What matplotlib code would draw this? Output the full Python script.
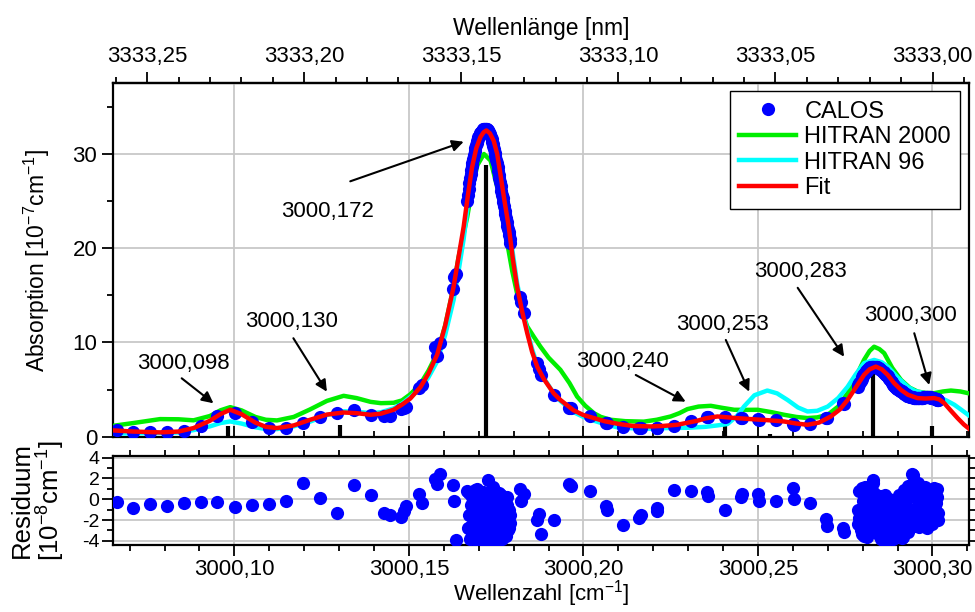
import numpy as np
import matplotlib
matplotlib.use('Agg')
import matplotlib.pyplot as plt
from matplotlib.ticker import MultipleLocator, FixedLocator, FuncFormatter

plt.rcParams['font.family'] = ['Liberation Sans', 'DejaVu Sans']
plt.rcParams['mathtext.fontset'] = 'custom'
plt.rcParams['mathtext.rm'] = 'Liberation Sans'
plt.rcParams['mathtext.default'] = 'regular'
plt.rcParams['axes.unicode_minus'] = False

# CALOS measurement: wavenumber, absorption (1e-7/cm), residual (1e-8/cm) ###########
calos_wn = [3000.0663, 3000.0710, 3000.0758, 3000.0806, 3000.0856, 3000.0904, 3000.0951,
            3000.1002, 3000.1050, 3000.1100, 3000.1148, 3000.1196, 3000.1244, 3000.1294,
            3000.1343, 3000.1392, 3000.1430, 3000.1445, 3000.1478, 3000.1485, 3000.1491,
            3000.1528, 3000.1538, 3000.1576, 3000.1581, 3000.1588, 3000.1626, 3000.1630,
            3000.1636,
            # dense scan over the main line
            3000.1667, 3000.1671, 3000.1675, 3000.1679, 3000.1682, 3000.1686, 3000.1690,
            3000.1694, 3000.1697, 3000.1701, 3000.1705, 3000.1709, 3000.1712, 3000.1716,
            3000.1720, 3000.1724, 3000.1727, 3000.1731, 3000.1735, 3000.1739, 3000.1742,
            3000.1746, 3000.1750, 3000.1754, 3000.1757, 3000.1761, 3000.1765, 3000.1769,
            3000.1772, 3000.1776, 3000.1780, 3000.1784, 3000.1787, 3000.1791,
            3000.1818, 3000.1822, 3000.1829, 3000.1867, 3000.1872, 3000.1879, 3000.1915,
            3000.1960, 3000.1965, 3000.2019, 3000.2064, 3000.2068, 3000.2114, 3000.2160,
            3000.2164, 3000.2210, 3000.2212, 3000.2259, 3000.2309, 3000.2353, 3000.2357,
            3000.2405, 3000.2452, 3000.2455, 3000.2501, 3000.2503, 3000.2553, 3000.2600,
            3000.2602, 3000.2650, 3000.2695, 3000.2697, 3000.2743, 3000.2747,
            # dense scan over 3000,283 / 3000,300
            3000.2786, 3000.2791, 3000.2797, 3000.2802, 3000.2807, 3000.2813, 3000.2818,
            3000.2824, 3000.2829, 3000.2834, 3000.2840, 3000.2845, 3000.2850, 3000.2856,
            3000.2861, 3000.2867, 3000.2872, 3000.2877, 3000.2883, 3000.2888, 3000.2893,
            3000.2899, 3000.2904, 3000.2910, 3000.2915, 3000.2920, 3000.2926, 3000.2931,
            3000.2936, 3000.2942, 3000.2947, 3000.2953, 3000.2958, 3000.2963, 3000.2969,
            3000.2974, 3000.2979, 3000.2985, 3000.2990, 3000.2996, 3000.3001, 3000.3006,
            3000.3012, 3000.3017]
calos_abs = [0.67, 0.49, 0.49, 0.49, 0.63, 1.16, 2.15,
             2.57, 1.51, 0.92, 0.92, 1.45, 2.08, 2.57,
             2.79, 2.33, 2.25, 2.20, 2.95, 3.10, 3.20,
             5.20, 5.50, 9.50, 8.60, 9.90, 15.7, 17.0,
             17.3,
             25.0, 26.3, 27.4, 28.3, 29.0, 29.9, 30.6,
             31.2, 31.6, 31.9, 32.2, 32.4, 32.6, 32.7,
             32.7, 32.6, 32.4, 32.1, 31.8, 31.3, 30.8,
             30.1, 29.4, 28.6, 27.8, 27.0, 26.1, 25.3,
             24.5, 23.6, 22.8, 22.0, 21.4, 20.6,
             14.8, 14.3, 13.1, 7.8, 7.2, 6.6, 4.4,
             3.1, 3.0, 2.15, 1.5, 1.45, 1.05, 0.92,
             0.92, 0.92, 0.95, 1.16, 1.62, 2.05, 2.10,
             2.08, 1.98, 2.00, 1.87, 1.80, 1.73, 1.30,
             1.25, 1.38, 2.00, 1.95, 3.60, 3.50,
             5.3, 5.7, 6.1, 6.5, 6.8, 7.1, 7.3,
             7.4, 7.45, 7.45, 7.4, 7.3, 7.15, 7.0,
             6.8, 6.6, 6.4, 6.1, 5.8, 5.5, 5.3,
             5.1, 5.0, 4.85, 4.7, 4.55, 4.4, 4.3,
             4.25, 4.2, 4.15, 4.1, 4.1, 4.1, 4.1,
             4.15, 4.2, 4.2, 4.2, 4.15, 4.1, 4.05,
             3.95, 3.85]
calos_res = [-0.26, -0.87, -0.42, -0.67, -0.35, -0.26, -0.29,
             -0.77, -0.54, -0.48, -0.13, 1.54, 0.16, -1.28,
             1.35, 0.38, -1.35, -1.50, -1.67, -1.10, -0.70,
             0.48, -0.32, 1.92, 1.44, 2.40, 1.35, -0.22,
             -3.90,
             0.8, -1.5, -3.8, -2.6, 0.2, -3.2, -1.0,
             1.0, -2.2, -4.0, -0.4, -3.0, -1.8, 0.5,
             -3.6, -1.2, 1.8, -2.4, -0.6, -3.9, -1.6,
             0.3, -2.9, -3.9, -0.8, -2.0, 0.4, -3.4,
             -1.4, -2.6, 0.2, -3.0, -1.0, -2.3,
             0.96, -0.22, 0.54, -2.00, -1.38, -3.37, -2.00,
             1.50, 1.30, 0.74, -0.64, -1.06, -2.50, -1.83,
             -1.50, -1.12, -0.80, 0.87, 0.74, 0.70, 0.32,
             -1.06, 0.22, 0.48, 0.54, -0.16, -0.16, 1.12,
             0.00, -0.32, -1.92, -2.56, -2.80, -3.20,
             -2.4, 0.8, -3.3, -1.0, 1.2, -3.6, -0.4,
             0.9, 1.8, 0.6, -1.6, -3.0, 0.3, -2.6,
             -4.0, -1.2, -3.2, 0.0, -2.0, -3.8, -0.8,
             -2.8, 0.4, -1.8, -3.6, 0.9, -1.4, 1.3,
             -2.4, 2.4, 0.2, -1.0, 1.6, -2.6, 0.6,
             -0.6, 1.2, -2.2, 0.9, -1.6, 0.4, -0.9,
             1.0, -1.3]

# further passes of the dense scans
calos2_wn = [3000.1669, 3000.1673, 3000.1677, 3000.1681, 3000.1684, 3000.1688, 3000.1692,
             3000.1696, 3000.1699, 3000.1703, 3000.1707, 3000.1711, 3000.1714, 3000.1718,
             3000.1722, 3000.1726, 3000.1729, 3000.1733, 3000.1737, 3000.1741, 3000.1744,
             3000.1748, 3000.1752, 3000.1756, 3000.1759, 3000.1763, 3000.1767, 3000.1771,
             3000.1774, 3000.1778, 3000.1782, 3000.1786, 3000.1789,
             3000.2788, 3000.2794, 3000.2799, 3000.2805, 3000.2810, 3000.2815, 3000.2821,
             3000.2826, 3000.2831, 3000.2837, 3000.2842, 3000.2848, 3000.2853, 3000.2858,
             3000.2864, 3000.2869, 3000.2875, 3000.2880, 3000.2885, 3000.2891, 3000.2896,
             3000.2901, 3000.2907, 3000.2912, 3000.2918, 3000.2923, 3000.2928, 3000.2934,
             3000.2939, 3000.2944, 3000.2950, 3000.2955, 3000.2961, 3000.2966, 3000.2971,
             3000.2977, 3000.2982, 3000.2987, 3000.2993, 3000.2998, 3000.3004, 3000.3009,
             3000.3014,
             3000.2790, 3000.2800, 3000.2812, 3000.2819, 3000.2827, 3000.2835, 3000.2846,
             3000.2852, 3000.2860, 3000.2866, 3000.2874, 3000.2882, 3000.2890, 3000.2898,
             3000.2906, 3000.2914, 3000.2922, 3000.2930, 3000.2938, 3000.2946, 3000.2952,
             3000.2960, 3000.2968, 3000.2976, 3000.2984, 3000.2992, 3000.3000, 3000.3010,
             3000.3016]
calos2_abs = [25.7, 26.9, 27.9, 28.7, 29.5, 30.3, 30.9,
              31.4, 31.8, 32.1, 32.3, 32.5, 32.6, 32.7,
              32.7, 32.5, 32.3, 32.0, 31.6, 31.1, 30.5,
              29.8, 29.0, 28.2, 27.4, 26.6, 25.7, 24.9,
              24.0, 23.2, 22.4, 21.7, 21.0,
              5.5, 5.9, 6.3, 6.65, 6.95, 7.2, 7.35,
              7.45, 7.45, 7.45, 7.35, 7.2, 7.1, 6.9,
              6.7, 6.5, 6.25, 5.95, 5.65, 5.4, 5.2,
              5.05, 4.9, 4.8, 4.6, 4.5, 4.35, 4.3,
              4.2, 4.2, 4.1, 4.1, 4.1, 4.1, 4.15,
              4.2, 4.2, 4.2, 4.2, 4.15, 4.1, 4.0,
              3.9,
              5.6, 6.4, 7.0, 7.3, 7.4, 7.45, 7.25,
              7.1, 6.85, 6.6, 6.3, 5.9, 5.45, 5.15,
              4.95, 4.75, 4.5, 4.3, 4.2, 4.15, 4.1,
              4.1, 4.1, 4.2, 4.2, 4.2, 4.15, 3.95,
              3.85]
calos2_res = [-2.8, 0.6, -0.6, -3.4, -1.8, 0.9, -2.6,
              -4.0, -0.2, -1.4, -3.5, 0.7, -2.0, -0.9,
              -4.1, -2.8, 0.3, -1.2, -3.3, 1.2, -2.1,
              -0.4, -3.6, -1.5, 0.6, -2.7, -3.8, -0.2,
              -1.9, -3.5, -0.6, -2.8, -1.5,
              -1.0, -3.0, 1.1, -3.5, -2.0, 0.4, -1.6,
              -2.6, 1.6, -0.8, -2.2, -0.2, -3.8, -1.6,
              0.4, -3.9, -2.2, -0.8, -2.8, -1.2, -3.4,
              0.0, -2.4, -3.7, -1.0, -2.8, 0.2, -2.0,
              0.8, 2.3, -1.8, 0.6, -2.7, -1.2, 0.9,
              -2.6, -1.4, 0.3, -2.0, -0.6, 1.1, -1.8,
              0.2,
              -1.8, -0.2, -2.6, 0.2, -3.2, -1.0, -3.4,
              -1.0, -2.8, -0.6, -1.6, -3.3, -2.0, -0.4,
              -3.0, -2.0, -0.4, -3.2, -1.0, -2.6, 1.0,
              -0.2, -2.2, -0.8, -2.8, -1.2, -2.4, -0.4,
              -2.0]

# Fit ####################################################################################
fit_wn = [3000.0653, 3000.0710, 3000.0787, 3000.0840, 3000.0883, 3000.0930, 3000.0960,
          3000.0988, 3000.1020, 3000.1060, 3000.1090, 3000.1122, 3000.1170, 3000.1217,
          3000.1265, 3000.1313, 3000.1350, 3000.1390, 3000.1420, 3000.1456, 3000.1480,
          3000.1504, 3000.1533, 3000.1556, 3000.1581, 3000.1604, 3000.1628, 3000.1642,
          3000.1657, 3000.1669, 3000.1681, 3000.1693, 3000.1705, 3000.1714, 3000.1722,
          3000.1732, 3000.1743, 3000.1753, 3000.1762, 3000.1774, 3000.1786, 3000.1798,
          3000.1810, 3000.1825, 3000.1839, 3000.1853, 3000.1868, 3000.1887, 3000.1915,
          3000.1934, 3000.1972, 3000.2000, 3000.2030, 3000.2060, 3000.2097, 3000.2140,
          3000.2193, 3000.2230, 3000.2269, 3000.2300, 3000.2327, 3000.2350, 3000.2384,
          3000.2430, 3000.2480, 3000.2530, 3000.2575, 3000.2610, 3000.2642, 3000.2675,
          3000.2709, 3000.2735, 3000.2757, 3000.2780, 3000.2804, 3000.2820, 3000.2838,
          3000.2855, 3000.2872, 3000.2890, 3000.2910, 3000.2930, 3000.2957, 3000.2980,
          3000.3005, 3000.3020, 3000.3034, 3000.3052, 3000.3072, 3000.3090, 3000.3105]
fit_abs = [0.67, 0.55, 0.46, 0.55, 0.92, 1.70, 2.40,
           2.86, 2.40, 1.50, 1.05, 0.92, 1.20, 1.80,
           2.35, 2.57, 2.50, 2.33, 2.45, 2.86, 3.40,
           4.05, 5.26, 6.70, 8.70, 11.8, 15.9, 19.0,
           22.3, 25.6, 28.6, 30.6, 31.8, 32.3, 32.5,
           32.2, 31.4, 30.0, 27.9, 25.0, 22.3, 18.8,
           15.9, 13.2, 11.0, 9.0, 7.4, 6.1, 4.6,
           3.9, 2.8, 2.3, 1.98, 1.65, 1.38, 1.15,
           1.09, 1.15, 1.27, 1.50, 1.70, 1.95, 2.15,
           2.00, 1.87, 1.75, 1.62, 1.40, 1.27, 1.50,
           2.15, 2.90, 3.90, 5.20, 6.56, 7.15, 7.44,
           7.15, 6.56, 5.70, 4.97, 4.45, 4.10, 4.05,
           4.10, 3.95, 3.56, 2.80, 1.98, 1.30, 0.85]

# HITRAN 2000 ############################################################################
h2000_wn = [3000.0653, 3000.0710, 3000.0787, 3000.0840, 3000.0883, 3000.0930, 3000.0960,
            3000.0988, 3000.1020, 3000.1060, 3000.1090, 3000.1122, 3000.1170, 3000.1217,
            3000.1265, 3000.1313, 3000.1350, 3000.1390, 3000.1420, 3000.1456, 3000.1480,
            3000.1504, 3000.1533, 3000.1556, 3000.1581, 3000.1604, 3000.1628, 3000.1642,
            3000.1667, 3000.1681, 3000.1696, 3000.1715, 3000.1734, 3000.1753, 3000.1767,
            3000.1782, 3000.1796, 3000.1810, 3000.1825, 3000.1839, 3000.1858, 3000.1877,
            3000.1900, 3000.1934, 3000.1960, 3000.1982, 3000.2005, 3000.2030, 3000.2050,
            3000.2078, 3000.2120, 3000.2173, 3000.2210, 3000.2250, 3000.2275, 3000.2298,
            3000.2330, 3000.2365, 3000.2400, 3000.2432, 3000.2470, 3000.2499, 3000.2540,
            3000.2575, 3000.2610, 3000.2642, 3000.2670, 3000.2700, 3000.2730, 3000.2757,
            3000.2780, 3000.2804, 3000.2820, 3000.2833, 3000.2848, 3000.2862, 3000.2885,
            3000.2910, 3000.2935, 3000.2957, 3000.2980, 3000.3005, 3000.3030, 3000.3053,
            3000.3080, 3000.3105]
h2000_abs = [1.16, 1.45, 1.87, 1.85, 1.74, 2.20, 2.80,
             3.14, 2.80, 2.10, 1.80, 1.73, 2.10, 2.90,
             3.80, 4.34, 4.10, 3.70, 3.56, 3.60, 3.85,
             4.50, 5.60, 7.00, 8.86, 11.8, 15.9, 19.0,
             23.3, 26.3, 28.8, 30.0, 29.3, 26.5, 23.5,
             20.5, 17.6, 15.2, 13.2, 11.7, 10.6, 9.55,
             8.40, 7.10, 5.70, 4.26, 3.30, 2.50, 2.10,
             1.80, 1.65, 1.60, 1.80, 2.15, 2.50, 2.93,
             3.20, 3.28, 3.05, 2.86, 2.85, 2.86, 2.60,
             2.33, 2.10, 1.98, 2.05, 2.33, 3.20, 4.62,
             6.30, 8.15, 9.10, 9.55, 9.30, 8.86, 7.30,
             6.03, 5.20, 4.80, 4.65, 4.62, 4.80, 4.90,
             4.80, 4.60]

# HITRAN 96 ##############################################################################
h96_wn = [3000.0653, 3000.0710, 3000.0787, 3000.0840, 3000.0883, 3000.0930, 3000.0960,
          3000.0988, 3000.1020, 3000.1060, 3000.1090, 3000.1122, 3000.1170, 3000.1217,
          3000.1265, 3000.1313, 3000.1350, 3000.1390, 3000.1420, 3000.1456, 3000.1480,
          3000.1504, 3000.1533, 3000.1556, 3000.1581, 3000.1604, 3000.1628, 3000.1642,
          3000.1657, 3000.1669, 3000.1681, 3000.1693, 3000.1705, 3000.1714, 3000.1722,
          3000.1732, 3000.1743, 3000.1753, 3000.1762, 3000.1774, 3000.1786, 3000.1798,
          3000.1810, 3000.1825, 3000.1839, 3000.1853, 3000.1868, 3000.1887, 3000.1915,
          3000.1934, 3000.1972, 3000.2000, 3000.2030, 3000.2060, 3000.2097, 3000.2140,
          3000.2193, 3000.2240, 3000.2300, 3000.2350, 3000.2384, 3000.2413, 3000.2440,
          3000.2460, 3000.2490, 3000.2527, 3000.2555, 3000.2585, 3000.2615, 3000.2642,
          3000.2670, 3000.2700, 3000.2730, 3000.2757, 3000.2780, 3000.2804, 3000.2833,
          3000.2855, 3000.2872, 3000.2900, 3000.2929, 3000.2950, 3000.2977, 3000.3000,
          3000.3015, 3000.3040, 3000.3063, 3000.3085, 3000.3105]
h96_abs = [0.35, 0.35, 0.40, 0.45, 0.70, 1.10, 1.45,
           1.62, 1.40, 1.00, 0.82, 0.81, 1.10, 1.60,
           2.30, 2.70, 2.65, 2.50, 2.60, 3.00, 3.50,
           4.20, 5.10, 6.30, 8.00, 10.8, 14.5, 17.5,
           21.0, 24.6, 28.0, 30.3, 31.5, 32.1, 32.3,
           32.0, 31.4, 30.2, 28.3, 25.6, 22.8, 19.4,
           16.3, 13.6, 11.3, 9.3, 7.6, 6.2, 4.6,
           3.8, 2.6, 2.1, 1.7, 1.35, 1.0, 0.9,
           0.85, 0.92, 0.95, 1.05, 1.20, 1.35, 2.20,
           3.20, 4.40, 4.90, 4.60, 3.90, 3.10, 2.68,
           2.75, 3.20, 4.10, 5.30, 6.60, 7.80, 8.15,
           7.90, 7.44, 6.30, 5.30, 4.85, 4.62, 4.35,
           4.26, 3.85, 3.39, 2.80, 2.25]

# line positions (stick spectrum) and labels ###########################################
stick_wn = [3000.0983, 3000.1303, 3000.1722, 3000.2405, 3000.2534, 3000.2829, 3000.3000]
stick_h = [1.1, 1.2, 28.8, 1.4, 0.3, 6.8, 1.1]

lbl_text = ['3000,098', '3000,130', '3000,172', '3000,240', '3000,253', '3000,283', '3000,300']
lbl_xy = [(3000.0854, 7.8), (3000.1165, 12.2), (3000.1266, 23.85), (3000.2111, 7.96),
          (3000.2398, 11.86), (3000.2623, 17.5), (3000.2938, 12.9)]
arr_tail = [(3000.0849, 6.2), (3000.1169, 10.45), (3000.1332, 27.1), (3000.2150, 6.55),
            (3000.2408, 10.27), (3000.2614, 15.8), (3000.2948, 10.98)]
arr_head = [(3000.0940, 3.55), (3000.1265, 4.78), (3000.1657, 31.3), (3000.2293, 3.72),
            (3000.2475, 4.78), (3000.2747, 8.49), (3000.2991, 5.49)]

nm_ticks = [3333.25, 3333.20, 3333.15, 3333.10, 3333.05, 3333.00]

xlim = (3000.0653, 3000.3105)
fs = 16

fig = plt.figure(figsize=(9.75, 6.12), dpi=100)
ax = fig.add_axes([0.1162, 0.2864, 0.8777, 0.5775])
axr = fig.add_axes([0.1162, 0.1095, 0.8777, 0.1454])

comma = lambda d: FuncFormatter(lambda v, p: f"{v:.{d}f}".replace('.', ','))

# main panel
ax.vlines(stick_wn, 0, stick_h, color='k', lw=3, zorder=2)
ax.plot(h2000_wn, h2000_abs, color='#00ee00', lw=3.2, label='HITRAN 2000', zorder=3)
ax.plot(h96_wn, h96_abs, color='#00ffff', lw=3.2, label='HITRAN 96', zorder=3)
ax.plot(calos_wn, calos_abs, 'o', color='#0000ff', ms=9.5, mew=0, label='CALOS', zorder=4)
ax.plot(calos2_wn, calos2_abs, 'o', color='#0000ff', ms=9.5, mew=0, zorder=4)
ax.plot(fit_wn, fit_abs, color='#ff0000', lw=3.2, label='Fit', zorder=5)

for t, p, a, b in zip(lbl_text, lbl_xy, arr_tail, arr_head):
    ax.text(p[0], p[1], t, fontsize=fs, ha='center', va='center')
    ax.annotate('', xy=b, xytext=a,
                arrowprops=dict(arrowstyle='-|>', color='k', lw=1.5,
                                mutation_scale=17, shrinkA=0, shrinkB=0))

ax.set_xlim(*xlim)
ax.set_ylim(0, 37.5)
ax.xaxis.set_major_locator(MultipleLocator(0.05))
ax.xaxis.set_minor_locator(MultipleLocator(0.01))
ax.yaxis.set_major_locator(MultipleLocator(10))
ax.yaxis.set_minor_locator(MultipleLocator(5))
ax.grid(True, which='major', color='#c8c8c8', lw=1.3)
ax.set_axisbelow(True)
ax.tick_params(axis='x', which='both', direction='in', labelbottom=False, top=False)
ax.tick_params(axis='x', which='major', length=8, width=1.3)
ax.tick_params(axis='x', which='minor', length=4, width=1.3)
ax.tick_params(axis='y', which='major', direction='out', length=8, width=1.3, labelsize=fs)
ax.tick_params(axis='y', which='minor', direction='out', length=4, width=1.3)
ax.set_ylabel('Absorption [10$^{-7}$cm$^{-1}$]', fontsize=fs + 0.5)
ax.yaxis.set_label_coords(-0.072, 0.5)
for s in ax.spines.values():
    s.set_linewidth(1.6)

# wavelength on top
def wn2nm(k):
    k = np.asarray(k, dtype=float)
    with np.errstate(divide='ignore', invalid='ignore'):
        return 1e7 / k

top = ax.secondary_xaxis('top', functions=(wn2nm, wn2nm))
top.xaxis.set_major_locator(FixedLocator(nm_ticks))
top.xaxis.set_minor_locator(MultipleLocator(0.01))
top.xaxis.set_major_formatter(comma(2))
top.tick_params(which='major', direction='out', length=8, width=1.3, labelsize=fs)
top.tick_params(which='minor', direction='out', length=4, width=1.3)
top.set_xlabel('Wellenlänge [nm]', fontsize=fs + 0.5, labelpad=8)
top.spines['top'].set_linewidth(1.6)

leg = ax.legend(handles=[ax.lines[2], ax.lines[0], ax.lines[1], ax.lines[4]],
                loc='upper right', bbox_to_anchor=(0.99, 0.978), borderaxespad=0,
                fontsize=fs + 1, frameon=True, fancybox=False, framealpha=1,
                edgecolor='k', handlelength=2.4, handletextpad=0.35,
                labelspacing=0.15, borderpad=0.4)
leg.get_frame().set_linewidth(1.0)

# residual panel
axr.plot(calos_wn, calos_res, 'o', color='#0000ff', ms=9.5, mew=0, zorder=3)
axr.plot(calos2_wn, calos2_res, 'o', color='#0000ff', ms=9.5, mew=0, zorder=3)
axr.set_xlim(*xlim)
axr.set_ylim(-4.4, 4.15)
axr.xaxis.set_major_locator(MultipleLocator(0.05))
axr.xaxis.set_minor_locator(MultipleLocator(0.01))
axr.xaxis.set_major_formatter(comma(2))
axr.yaxis.set_major_locator(MultipleLocator(2))
axr.yaxis.set_minor_locator(MultipleLocator(1))
axr.grid(True, which='major', color='#c8c8c8', lw=1.3)
axr.set_axisbelow(True)
axr.tick_params(which='both', direction='out', top=True, right=True, width=1.3)
axr.tick_params(which='major', length=8, labelsize=fs)
axr.tick_params(axis='x', which='major', pad=2)
axr.tick_params(axis='y', which='major', labelsize=14, pad=2)
axr.tick_params(which='minor', length=4)
axr.set_xlabel('Wellenzahl [cm$^{-1}$]', fontsize=fs, labelpad=-1)
axr.set_ylabel('Residuum\n[10$^{-8}$cm$^{-1}$]', fontsize=18.5, linespacing=1.05)
axr.yaxis.set_label_coords(-0.054, 0.5)
for s in axr.spines.values():
    s.set_linewidth(1.6)

fig.savefig('out.png', dpi=100)
